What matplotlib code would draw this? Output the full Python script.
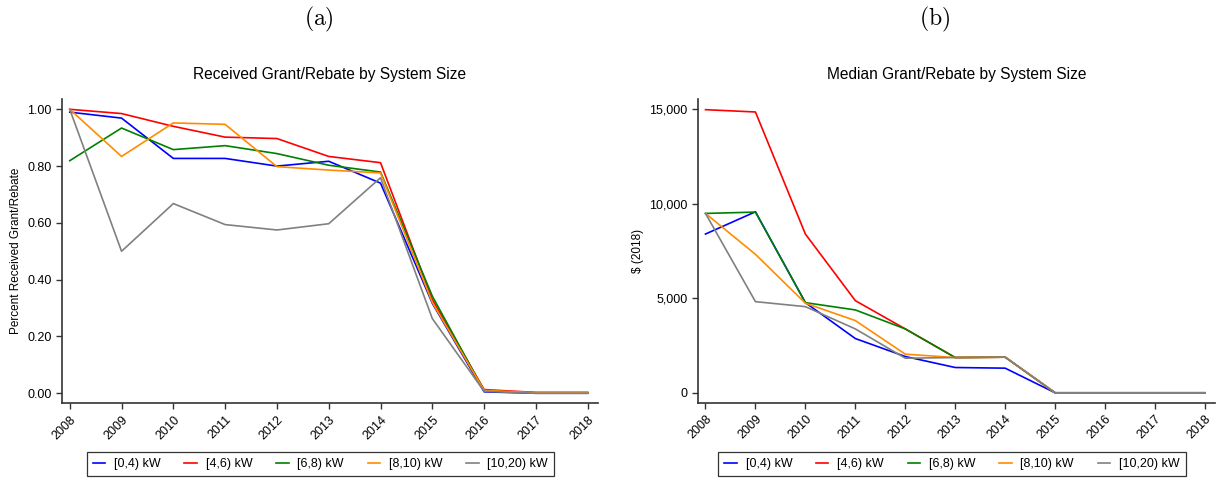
import matplotlib
matplotlib.use("Agg")
import matplotlib.pyplot as plt
from matplotlib.ticker import FuncFormatter

plt.rcParams["font.family"] = ["Liberation Sans", "DejaVu Sans"]
plt.rcParams["mathtext.fontset"] = "cm"

years = list(range(2008, 2019))
sizes = ["[0,4) kW", "[4,6) kW", "[6,8) kW", "[8,10) kW", "[10,20) kW"]
colors = ["#0000ff", "#ff0000", "#008000", "#ff8c00", "#808080"]

# share of systems that received a grant/rebate
share_0_4 = [0.990, 0.969, 0.827, 0.827, 0.800, 0.817, 0.740, 0.317, 0.005, 0.0, 0.0]
share_4_6 = [1.000, 0.985, 0.940, 0.902, 0.897, 0.834, 0.812, 0.330, 0.013, 0.003, 0.003]
share_6_8 = [0.819, 0.934, 0.858, 0.872, 0.844, 0.803, 0.779, 0.342, 0.008, 0.002, 0.002]
share_8_10 = [1.000, 0.834, 0.952, 0.947, 0.798, 0.786, 0.776, 0.320, 0.010, 0.002, 0.002]
share_10_20 = [1.000, 0.500, 0.668, 0.594, 0.575, 0.597, 0.759, 0.263, 0.007, 0.0, 0.0]

# median grant/rebate, 2018 dollars
median_0_4 = [8400, 9577, 4770, 2870, 1920, 1338, 1303, 0, 0, 0, 0]
median_4_6 = [14980, 14857, 8398, 4875, 3380, 1865, 1885, 0, 0, 0, 0]
median_6_8 = [9490, 9560, 4770, 4384, 3380, 1865, 1885, 0, 0, 0, 0]
median_8_10 = [9490, 7326, 4740, 3820, 2044, 1865, 1885, 0, 0, 0, 0]
median_10_20 = [9490, 4822, 4558, 3380, 1830, 1865, 1885, 0, 0, 0, 0]

shares = [share_0_4, share_4_6, share_6_8, share_8_10, share_10_20]
medians = [median_0_4, median_4_6, median_6_8, median_8_10, median_10_20]

fig = plt.figure(figsize=(12.25, 4.8), dpi=100)
axA = fig.add_axes([0.0506, 0.160, 0.4376, 0.633])
axB = fig.add_axes([0.5698, 0.161, 0.4220, 0.632])


def style_axes(ax):
    for side in ["top", "right"]:
        ax.spines[side].set_visible(False)
    for side in ["left", "bottom"]:
        ax.spines[side].set_linewidth(1.2)
        ax.spines[side].set_color("#333333")
    ax.tick_params(axis="both", labelsize=9, width=1.0, length=4, color="#333333")
    ax.set_xticks(years)
    ax.set_xticklabels([str(y) for y in years], rotation=45, ha="right",
                       rotation_mode="anchor")
    ax.set_xlim(2007.85, 2018.2)


for vals, c, lab in zip(shares, colors, sizes):
    axA.plot(years, vals, color=c, lw=1.2, label=lab)
style_axes(axA)
axA.set_ylim(-0.035, 1.035)
axA.set_yticks([0, 0.2, 0.4, 0.6, 0.8, 1.0])
axA.yaxis.set_major_formatter(FuncFormatter(lambda v, p: "%.2f" % v))
axA.set_ylabel("Percent Received Grant/Rebate", fontsize=8.5)
axA.set_title("Received Grant/Rebate by System Size", fontsize=11.2, pad=15)

for vals, c, lab in zip(medians, colors, sizes):
    axB.plot(years, vals, color=c, lw=1.2, label=lab)
style_axes(axB)
axB.set_ylim(-525, 15525)
axB.set_yticks([0, 5000, 10000, 15000])
axB.yaxis.set_major_formatter(FuncFormatter(lambda v, p: "{:,.0f}".format(v)))
axB.set_ylabel(r"\$ (2018)", fontsize=8.5)
axB.set_title("Median Grant/Rebate by System Size", fontsize=11.2, pad=15)

# panel letters and legends under each panel
for ax, letter, lx, legx in [(axA, "(a)", 0.260, 0.2615), (axB, "(b)", 0.763, 0.777)]:
    fig.text(lx, 0.960, r"$\mathrm{" + letter + "}$", ha="center", va="center",
             fontsize=17)
    h, l = ax.get_legend_handles_labels()
    leg = fig.legend(h, l, loc="center", ncol=5, fontsize=9.0,
                     bbox_to_anchor=(legx, 0.033),
                     frameon=True, fancybox=False, edgecolor="black",
                     handlelength=1.0, handletextpad=0.7, columnspacing=1.9,
                     borderpad=0.5)
    leg.get_frame().set_linewidth(0.9)

fig.savefig("out.png", dpi=100)
